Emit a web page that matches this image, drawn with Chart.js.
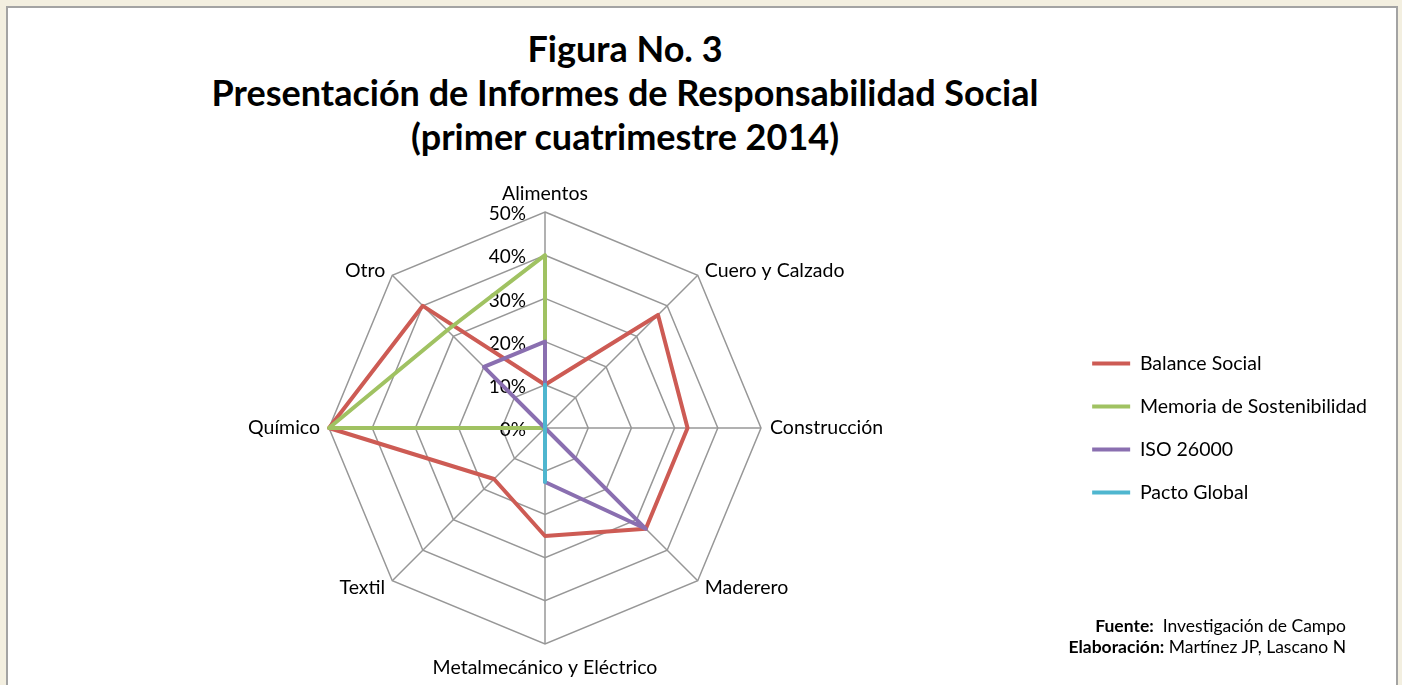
<!DOCTYPE html>
<html lang="es">
<head>
<meta charset="utf-8">
<title>Figura No. 3</title>
<script src="https://cdn.jsdelivr.net/npm/chart.js@4.4.1/dist/chart.umd.min.js"></script>
<style>
  html, body { margin: 0; padding: 0; }
  body { width: 1402px; height: 685px; background: #f3efe0; position: relative; overflow: hidden; font-family: Lato, "Open Sans", sans-serif; }
  #panel { position: absolute; left: 6px; top: 6px; width: 1388px; height: 700px; background: #fff; border: 2px solid #a3a3a3; border-bottom: none; }
  #titulo { position: absolute; left: 0; top: 26px; width: 1250px; text-align: center; font-weight: bold; font-size: 36px; line-height: 44px; color: #000; }
  #fuente { position: absolute; right: 56px; top: 615px; text-align: right; font-size: 17.5px; line-height: 21px; color: #000; }
  #wrap { position: absolute; left: 0; top: 170px; width: 1396px; height: 515px; }
</style>
</head>
<body>
<div id="panel"></div>
<div id="titulo">Figura No. 3<br>Presentación de Informes de Responsabilidad Social<br>(primer cuatrimestre 2014)</div>
<div id="wrap"><canvas id="radar"></canvas></div>
<div id="fuente"><b>Fuente:</b>&nbsp; Investigación de Campo<br><b>Elaboración:</b> Martínez JP, Lascano N</div>
<script>
// --- DONNÉES ---
const sectores = ['Alimentos', 'Cuero y Calzado', 'Construcción', 'Maderero',
  'Metalmecánico y Eléctrico', 'Textil', 'Químico', 'Otro'];
const balanceSocial = [0.10, 0.37, 0.33, 0.33, 0.25, 0.167, 0.50, 0.40];
const memoriaSostenibilidad = [0.40, 0, 0, 0, 0, 0, 0.50, 0.32];
const iso26000 = [0.20, 0, 0, 0.33, 0.125, 0, 0, 0.20];
const pactoGlobal = [0.10, 0, 0, 0, 0.125, 0, 0, 0];
const ticksEje = [0, 0.1, 0.2, 0.3, 0.4, 0.5];

const grisRejilla = '#979797';
const fuenteEtiquetas = '19.5px Lato';

// étiquettes des ticks et des secteurs placées comme dans Excel
const etiquetasEje = {
  id: 'etiquetasEje',
  beforeDatasetsDraw(chart) {
    const r = chart.scales.r;
    const ctx = chart.ctx;
    ctx.save();
    ctx.fillStyle = '#000';

    // ticks à gauche de l'axe vertical
    ctx.font = '19px Lato';
    ctx.textAlign = 'right';
    ctx.textBaseline = 'middle';
    ticksEje.forEach(v => {
      const d = r.getDistanceFromCenterForValue(v);
      ctx.fillText(Math.round(v * 100) + '%', r.xCenter - 19, r.yCenter - d + 2);
    });

    // noms des secteurs
    ctx.font = fuenteEtiquetas;
    sectores.forEach((nom, i) => {
      const p0 = r.getPointPosition(i, r.drawingArea);
      const dx = p0.x - r.xCenter;
      const dy = p0.y - r.yCenter;
      let off = 10, align = 'center', base = 'middle', ajusteY = 0;
      if (Math.abs(dx) < 1) {
        if (dy < 0) { off = 9; base = 'bottom'; } else { off = 24; }
      } else if (Math.abs(dy) < 1) {
        off = 9; align = dx > 0 ? 'left' : 'right';
      } else {
        align = dx > 0 ? 'left' : 'right';
        ajusteY = dy < 0 ? 3 : 0;
      }
      const p = r.getPointPosition(i, r.drawingArea + off);
      ctx.textAlign = align;
      ctx.textBaseline = base;
      ctx.fillText(nom, p.x, p.y + ajusteY);
    });
    ctx.restore();
  }
};

function serie(label, data, color, order) {
  return {
    label: label,
    data: data,
    borderColor: color,
    backgroundColor: color,
    borderWidth: 4,
    borderJoinStyle: 'round',
    borderCapStyle: 'round',
    fill: false,
    pointRadius: 0,
    order: order
  };
}

const ctx = document.getElementById('radar').getContext('2d');
new Chart(ctx, {
  type: 'radar',
  data: {
    labels: sectores,
    datasets: [
      serie('Balance Social', balanceSocial, '#cd5b54', 4),
      serie('Memoria de Sostenibilidad', memoriaSostenibilidad, '#a0c262', 3),
      serie('ISO 26000', iso26000, '#8a6fb0', 2),
      serie('Pacto Global', pactoGlobal, '#4fb6cf', 1)
    ]
  },
  options: {
    responsive: true,
    maintainAspectRatio: false,
    animation: false,
    layout: { padding: { left: 22, right: 19, top: 42, bottom: 41 } },
    elements: { line: { tension: 0 } },
    scales: {
      r: {
        min: 0,
        max: 0.5,
        afterBuildTicks: (scale) => { scale.ticks = ticksEje.map(v => ({ value: v })); },
        ticks: { display: false },
        grid: { color: grisRejilla, lineWidth: 1.5, circular: false },
        angleLines: { color: grisRejilla, lineWidth: 1.5 },
        pointLabels: { display: false }
      }
    },
    plugins: {
      tooltip: { enabled: false },
      legend: {
        position: 'right',
        labels: {
          color: '#000',
          font: { family: 'Lato', size: 19.5 },
          usePointStyle: true,
          pointStyle: 'line',
          pointStyleWidth: 38,
          padding: 23.5,
          sort: (a, b) => a.datasetIndex - b.datasetIndex
        }
      }
    }
  },
  plugins: [etiquetasEje]
});
</script>
</body>
</html>
